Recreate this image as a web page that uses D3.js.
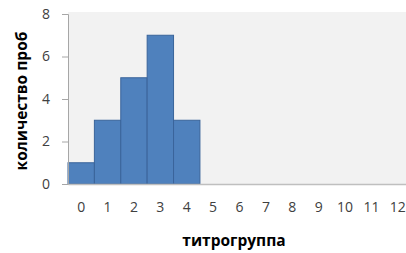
<!DOCTYPE html>
<html><head><meta charset="utf-8">
<script src="https://cdn.jsdelivr.net/npm/d3@7"></script>
<style>body{margin:0;background:#fff}svg{display:block}</style>
</head><body>
<script>
const categories = ["0","1","2","3","4","5","6","7","8","9","10","11","12"];
const values = [1,3,5,7,3,0,0,0,0,0,0,0,0];
const yTicks = [0,2,4,6,8];
const xTitle = "титрогруппа";
const yTitle = "количество проб";

const W = 406, H = 253;
const m = {left:68, top:12, right:-5, bottom:69};
const svg = d3.select("body").append("svg").attr("width",W).attr("height",H);
const x = d3.scaleBand().domain(categories).range([m.left, W - m.right]).padding(0);
const y = d3.scaleLinear().domain([0,8]).range([184, 14]);

svg.append("rect").attr("x",m.left).attr("y",m.top).attr("width",W-m.left).attr("height",184-m.top).attr("fill","#f2f2f2");

svg.selectAll("rect.bar").data(values).join("rect").attr("class","bar")
  .attr("x",(d,i)=>x(categories[i])).attr("y",d=>y(d))
  .attr("width",x.bandwidth()).attr("height",d=>y(0)-y(d))
  .attr("fill","#4f81bd").attr("stroke","#3a649a").attr("stroke-width",1)
  .attr("display",d=>d>0?null:"none");

const font = "Open Sans, sans-serif";
const ya = svg.append("g").attr("transform",`translate(${m.left},0)`)
  .call(d3.axisLeft(y).tickValues(yTicks).tickSize(6).tickPadding(12));
ya.select(".domain").attr("stroke","#a6a6a6");
ya.selectAll(".tick line").attr("stroke","#a6a6a6");
ya.selectAll("text").attr("fill","#404040").style("font-family",font).style("font-size","14px");

const xa = svg.append("g").attr("transform",`translate(0,184)`)
  .call(d3.axisBottom(x).tickSize(0).tickPadding(18));
xa.select(".domain").attr("stroke","#bfbfbf").attr("stroke-width",1.5);
xa.selectAll("text").attr("fill","#404040").style("font-family",font).style("font-size","14px");

svg.append("text").attr("x",234).attr("y",246).attr("text-anchor","middle")
  .style("font-family",font).style("font-size","15.5px").style("font-weight","bold").attr("fill","#000").text(xTitle);
svg.append("text").attr("transform","translate(27,101) rotate(-90)").attr("text-anchor","middle")
  .style("font-family",font).style("font-size","15.5px").style("font-weight","bold").attr("fill","#000").text(yTitle);
</script>
</body></html>
